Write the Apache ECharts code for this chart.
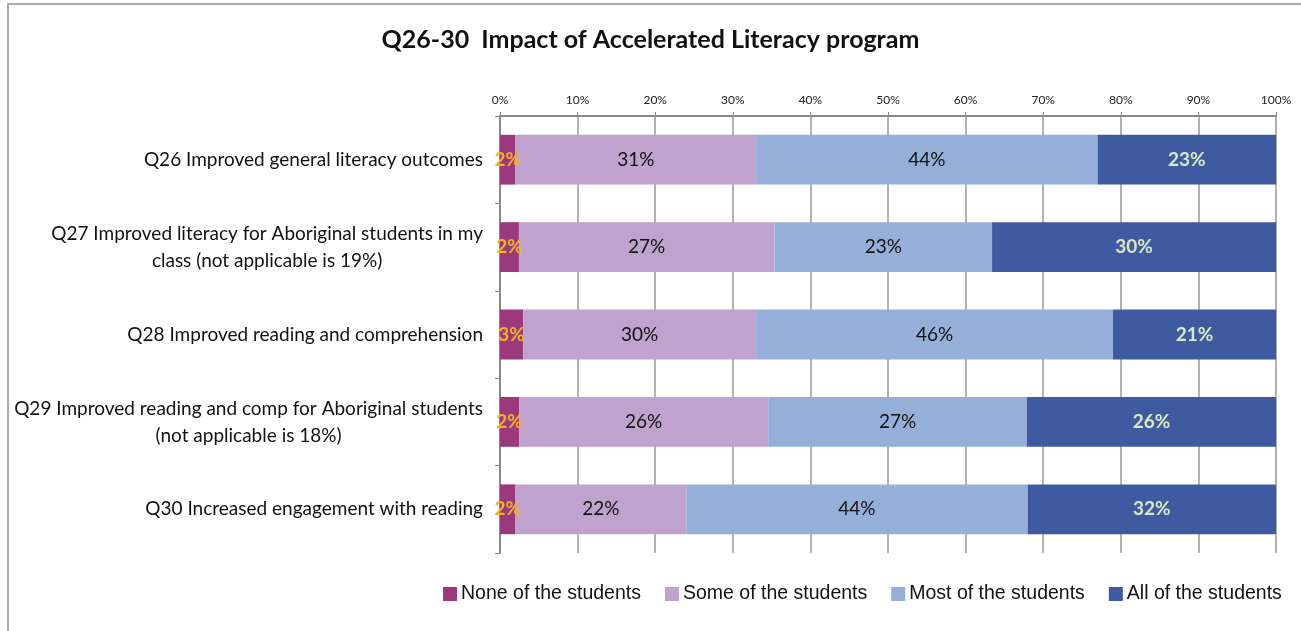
<!DOCTYPE html>
<html>
<head>
<meta charset="utf-8">
<script src="https://cdn.jsdelivr.net/npm/echarts@6/dist/echarts.min.js"></script>
<style>
  html, body { margin: 0; padding: 0; background: #fff; }
  #chart { width: 1301px; height: 631px; }
</style>
</head>
<body>
<div id="chart"></div>
<script>
// questions (top to bottom)
var questions = [
    'Q26 Improved general literacy outcomes',
    'Q27 Improved literacy for Aboriginal students in my\nclass (not applicable is 19%)',
    'Q28 Improved reading and comprehension',
    'Q29 Improved reading and comp for Aboriginal students\n(not applicable is 18%)',
    'Q30 Increased engagement with reading'
];
var seriesNames = ['None of the students', 'Some of the students', 'Most of the students', 'All of the students'];

// percentages as labelled on the bars
var noneVals = [2, 2, 3, 2, 2];
var someVals = [31, 27, 30, 26, 22];
var mostVals = [44, 23, 46, 27, 44];
var allVals  = [23, 30, 21, 26, 32];

var xTicks = [0, 10, 20, 30, 40, 50, 60, 70, 80, 90, 100];

(function () {
    var raw = [noneVals, someVals, mostVals, allVals];
    var colors = ['#9A3A7C', '#BFA2CD', '#96AFD9', '#3E5BA2'];
    var labelStyles = [
        { color: '#F5B21E', fontWeight: 'bold' },
        { color: '#111', fontWeight: 'normal' },
        { color: '#111', fontWeight: 'normal' },
        { color: '#DCE6C2', fontWeight: 'bold' }
    ];

    // each bar is stretched to 100% of the answers given
    var totals = questions.map(function (q, i) {
        return raw.reduce(function (s, arr) { return s + arr[i]; }, 0);
    });

    var myChart = echarts.init(document.getElementById('chart'));

    var series = raw.map(function (arr, k) {
        return {
            name: seriesNames[k],
            type: 'bar',
            stack: 'total',
            barCategoryGap: '43%',
            data: arr.map(function (v, i) { return v / totals[i] * 100; }),
            itemStyle: { color: colors[k] },
            label: {
                show: true,
                position: 'inside',
                fontFamily: 'Lato',
                fontSize: 19,
                color: labelStyles[k].color,
                fontWeight: labelStyles[k].fontWeight,
                formatter: function (p) { return arr[p.dataIndex] + '%'; }
            },
            emphasis: { disabled: true }
        };
    });

    myChart.setOption({
        animation: false,
        title: {
            text: 'Q26-30  Impact of Accelerated Literacy program',
            left: 'center',
            top: 22,
            textStyle: {
                fontFamily: 'Lato',
                fontSize: 25,
                fontWeight: 'bold',
                color: '#111'
            }
        },
        graphic: [{
            type: 'rect',
            shape: { x: 8, y: 4, width: 1400, height: 700 },
            style: { fill: 'none', stroke: '#aaa', lineWidth: 2 },
            silent: true
        }],
        legend: {
            left: 438,
            top: 579,
            icon: 'rect',
            itemWidth: 14,
            itemHeight: 14,
            itemGap: 24,
            textStyle: {
                fontFamily: 'Liberation Sans',
                fontSize: 19.5,
                color: '#111',
                padding: [0, 0, 0, -1]
            },
            data: seriesNames
        },
        grid: {
            left: 500,
            right: 25,
            top: 116,
            bottom: 78
        },
        xAxis: {
            type: 'value',
            position: 'top',
            min: 0,
            max: 100,
            interval: 10,
            axisLabel: {
                fontFamily: 'Lato',
                fontSize: 12,
                color: '#222',
                margin: 10,
                formatter: function (v) { return xTicks.indexOf(v) >= 0 ? v + '%' : ''; }
            },
            axisLine: { show: true, lineStyle: { color: '#888', width: 2 } },
            axisTick: { show: true, length: 4, lineStyle: { color: '#888' } },
            splitLine: { show: true, lineStyle: { color: '#999', width: 1.5 } }
        },
        yAxis: {
            type: 'category',
            inverse: true,
            data: questions,
            axisLine: { show: true, lineStyle: { color: '#888', width: 2 } },
            axisTick: { show: true, length: 5, lineStyle: { color: '#888' } },
            axisLabel: {
                margin: 17,
                fontFamily: 'Lato',
                fontSize: 19,
                color: '#111',
                lineHeight: 27,
                formatter: function (v) {
                    return v.split('\n').map(function (s) { return '{c|' + s + '}'; }).join('\n');
                },
                rich: {
                    c: { align: 'center', fontFamily: 'Lato', fontSize: 19, color: '#111', lineHeight: 27 }
                }
            }
        },
        series: series
    });
})();
</script>
</body>
</html>
